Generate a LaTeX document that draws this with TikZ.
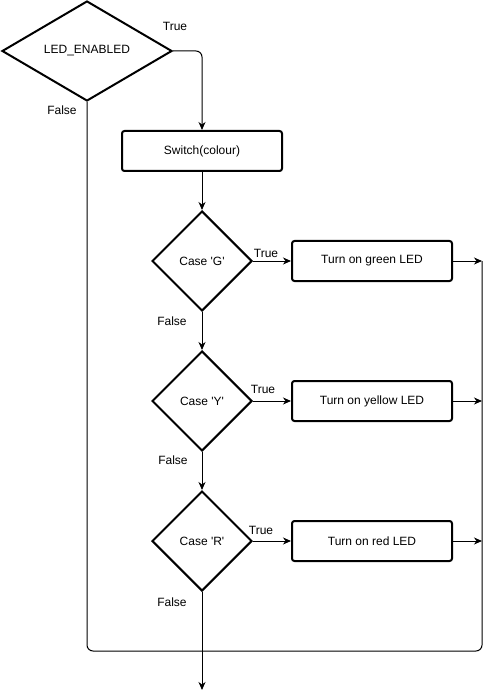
\documentclass[tikz,border=0pt]{standalone}
\usepackage{fontspec}
\setmainfont{Liberation Sans}
\usetikzlibrary{shapes.geometric,arrows.meta}
\tikzset{
  dec/.style={diamond,draw,line width=2pt,inner sep=0pt,minimum width=#1,minimum height=100pt,font=\fontsize{12}{14}\selectfont},
  proc/.style={rectangle,draw,line width=2pt,rounded corners=2.5pt,minimum width=160pt,minimum height=40pt,inner sep=0pt,font=\fontsize{12}{14}\selectfont},
  lbl/.style={inner sep=0pt,font=\fontsize{12}{14}\selectfont},
  conn/.style={line width=1pt},
  arr/.style={line width=1pt,-{Stealth[length=8pt,width=7pt,inset=2.5pt]}}
}
\begin{document}
\begin{tikzpicture}[x=1pt,y=-1pt]
\useasboundingbox (0,0) rectangle (490,700);
\node[dec=170pt] (led) at (87,51) {LED\_ENABLED};
\node[proc] (sw) at (202,151) {Switch(colour)};
\node[dec=100pt] (cg) at (202,261) {Case \textquotesingle G\textquotesingle};
\node[dec=100pt] (cy) at (202,401) {Case \textquotesingle Y\textquotesingle};
\node[dec=100pt] (cr) at (202,541) {Case \textquotesingle R\textquotesingle};
\node[proc] (bg) at (372,261) {Turn on green LED};
\node[proc] (by) at (372,401) {Turn on yellow LED};
\node[proc] (br) at (372,541) {Turn on red LED};
\coordinate (lb) at (87,651);
\coordinate (rb) at (482,651);
\coordinate (rt) at (482,261);
\coordinate (tr) at (202,51);
\coordinate (end) at (202,690);

\node[lbl] (t0) at (175,26) {True};
\node[lbl] (f0) at (62,110) {False};
\node[lbl] (t1) at (266,253) {True};
\node[lbl] (f1) at (172,321) {False};
\node[lbl] (t2) at (263,389) {True};
\node[lbl] (f2) at (173,460) {False};
\node[lbl] (t3) at (261,530) {True};
\node[lbl] (f3) at (172,602) {False};

\draw[arr,rounded corners=6pt] (led.east) -- (tr) -- (sw.north);
\draw[arr] (sw.south) -- (cg.north);
\draw[arr] (cg.south) -- (cy.north);
\draw[arr] (cy.south) -- (cr.north);
\draw[arr] (cr.south) -- (end);
\draw[arr] (cg.east) -- (bg.west);
\draw[arr] (cy.east) -- (by.west);
\draw[arr] (cr.east) -- (br.west);
\draw[arr] (bg.east) -- (bg.east -| rt);
\draw[arr] (by.east) -- (by.east -| rt);
\draw[arr] (br.east) -- (br.east -| rt);
\draw[conn,rounded corners=6pt] (led.south) -- (lb) -- (rb) -- (rt);
\end{tikzpicture}
\end{document}
